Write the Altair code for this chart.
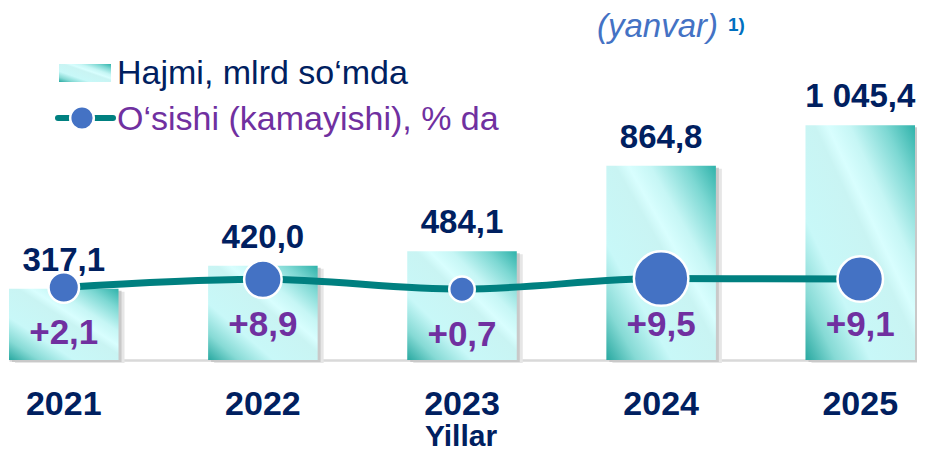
import altair as alt
import pandas as pd

# ---- data ----
years = ["2021", "2022", "2023", "2024", "2025"]
volume = [317.1, 420.0, 484.1, 864.8, 1045.4]
volume_labels = ["317,1", "420,0", "484,1", "864,8", "1 045,4"]
growth = [2.1, 8.9, 0.7, 9.5, 9.1]
growth_labels = ["+2,1", "+8,9", "+0,7", "+9,5", "+9,1"]

legend_volume = "Hajmi, mlrd so\u2018mda"
legend_growth = "O\u2018sishi (kamayishi), % da"
note_text = "(yanvar)"
note_sup = "1)"
x_title = "Yillar"

df = pd.DataFrame({
    "year": years,
    "volume": volume,
    "vlabel": volume_labels,
    "growth": growth,
    "glabel": growth_labels,
})
one = pd.DataFrame({"k": [0]})

W, H = 906, 352
FONT = "Liberation Sans, Arial, sans-serif"
NAVY = "#002060"
PURPLE = "#7030a0"
BLUE = "#4472c4"
TEAL = "#008080"

grad = alt.LinearGradient(
    gradient="linear", x1=1, y1=0, x2=0, y2=1,
    stops=[
        alt.GradientStop(offset=0.0, color="#2fb2aa"),
        alt.GradientStop(offset=0.14, color="#7dd8d3"),
        alt.GradientStop(offset=0.30, color="#c6f6f5"),
        alt.GradientStop(offset=0.40, color="#d8fefe"),
        alt.GradientStop(offset=0.46, color="#c9f4f3"),
        alt.GradientStop(offset=0.70, color="#c8f8f8"),
        alt.GradientStop(offset=0.86, color="#86dad5"),
        alt.GradientStop(offset=1.0, color="#28a8a0"),
    ],
)

x_enc = alt.X(
    "year:N", title=None, sort=years,
    scale=alt.Scale(paddingInner=0.45, paddingOuter=0),
    axis=alt.Axis(
        labelAngle=0, labelFont=FONT, labelFontSize=34, labelFontWeight="bold",
        labelColor=NAVY, labelBaseline="alphabetic", labelPadding=54,
        ticks=False, tickSize=0, domainColor="#d9d9d9", domainWidth=2.5,
        grid=False,
    ),
)

y_vol = alt.Y("volume:Q", axis=None,
              scale=alt.Scale(domain=[0, 1568], nice=False, zero=True))
y_gr = alt.Y("growth:Q", axis=None,
             scale=alt.Scale(domain=[-58.33, 235], nice=False, zero=False))

base = alt.Chart(df)

shadow2 = base.mark_bar(color="#e6e6e6", xOffset=6, yOffset=3).encode(x=x_enc, y=y_vol)
shadow1 = base.mark_bar(color="#c2c2c2", opacity=0.8, xOffset=3, yOffset=2).encode(x=x_enc, y=y_vol)
bars = base.mark_bar(fill=grad).encode(x=x_enc, y=y_vol)
bar_text = base.mark_text(
    font=FONT, fontSize=33, fontWeight="bold", color=NAVY,
    baseline="alphabetic", dy=-18,
).encode(x=x_enc, y=y_vol, text="vlabel:N")

vol_layer = alt.layer(shadow2, shadow1, bars, bar_text)

line = base.mark_line(color=TEAL, strokeWidth=7, interpolate="monotone").encode(x=x_enc, y=y_gr)
points = base.mark_circle(color=BLUE, opacity=1, stroke="white", strokeWidth=2.5).encode(
    x=x_enc, y=y_gr,
    size=alt.Size("growth:Q", legend=None,
                  scale=alt.Scale(domain=[0.7, 2.1, 8.9, 9.1, 9.5],
                                  range=[650, 930, 1406, 2070, 2970])),
)
g_text = base.mark_text(
    font=FONT, fontSize=35, fontWeight="bold", color=PURPLE,
    baseline="alphabetic", dy=57,
).encode(x=x_enc, y=y_gr, text="glabel:N")

gr_layer = alt.layer(line, points, g_text)

# ---- legend & annotations ----
o = alt.Chart(one)
sw = o.mark_rect(fill=grad).encode(x=alt.value(50), x2=alt.value(102), y=alt.value(56), y2=alt.value(74))
lg1 = o.mark_text(text=legend_volume, font=FONT, fontSize=34, color=NAVY,
                  align="left", baseline="alphabetic").encode(x=alt.value(108), y=alt.value(76))
lline = o.mark_rule(color=TEAL, strokeWidth=6, strokeCap="round").encode(
    x=alt.value(49), x2=alt.value(104), y=alt.value(110))
lcirc = o.mark_circle(color=BLUE, opacity=1, size=560, stroke="white", strokeWidth=2.5).encode(
    x=alt.value(73), y=alt.value(110))
lg2 = o.mark_text(text=legend_growth, font=FONT, fontSize=34, color=PURPLE,
                  align="left", baseline="alphabetic").encode(x=alt.value(108), y=alt.value(122))
note = o.mark_text(text=note_text, font=FONT, fontSize=33, fontStyle="italic", color=BLUE,
                   align="left", baseline="alphabetic").encode(x=alt.value(588), y=alt.value(29))
sup = o.mark_text(text=note_sup, font=FONT, fontSize=19, fontWeight="bold", color="#0070c0",
                  align="left", baseline="alphabetic").encode(x=alt.value(719), y=alt.value(23))
xt = o.mark_text(text=x_title, font=FONT, fontSize=30, fontWeight="bold", color=NAVY,
                 align="center", baseline="alphabetic").encode(x=alt.value(452), y=alt.value(438))

ann = alt.layer(sw, lg1, lline, lcirc, lg2, note, sup, xt)

chart = (
    alt.layer(vol_layer, gr_layer, ann)
    .resolve_scale(y="independent", size="independent")
    .properties(width=W, height=H,
                autosize=alt.AutoSizeParams(type="none"),
                padding={"left": 1, "top": 0, "right": 2, "bottom": 93},
                background="white")
    .configure_view(stroke=None)
)

chart.save("out.html", embed_options={"renderer": "svg", "actions": False})
